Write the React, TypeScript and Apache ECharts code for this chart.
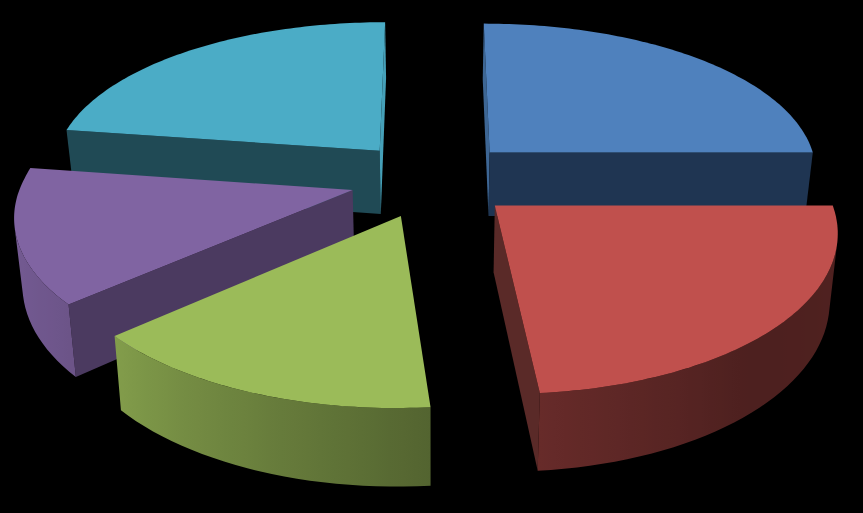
import React, { useEffect, useRef } from "react";
import * as echarts from "echarts";

const CATEGORIES = ["A", "B", "C", "D", "E"];
const VALUES = [25, 23.6, 14.9, 13.8, 22.7];
const TOP_COLORS = ["#4F81BD", "#C0504D", "#9BBB59", "#8064A2", "#4BACC6"];
const START_WALL = ["#3D6694", "#7A3533", "#66803A", "#4B3A60", "#204A55"];
const END_WALL = ["#1F3552", "#5A2A28", "#66803A", "#544070", "#45A0B8"];
const OUTER_SHADE: [number, number][] = [
  [0, 0.6],
  [90, 0.42],
  [140, 0.4],
  [174, 0.53],
  [232, 0.86],
  [280, 0.95],
  [360, 0.9],
];

// Projection of the tilted pie
const CX = 432.5;
const CY = 179;
const SCALE_X = 330;
const SCALE_Y = 153.8;
const PERSPECTIVE = 0.14;
const BACK_WIDEN = 0.02;
const EXPLODE = 0.25;
const HEIGHT = 65;
const TAPER = 0.02;
const STEP = 2;

const total = VALUES.reduce((a, b) => a + b, 0);
const spans = VALUES.map((_, i) => {
  const before = VALUES.slice(0, i).reduce((a, b) => a + b, 0);
  return [(before / total) * 360, ((before + VALUES[i]) / total) * 360];
});
const rad = (d: number) => (d * Math.PI) / 180;
const depthOf = (i: number) => -Math.cos(rad((spans[i][0] + spans[i][1]) / 2));
const drawOrder = VALUES.map((_, i) => i).sort((a, b) => depthOf(a) - depthOf(b));

function topPoint(u: number, v: number): number[] {
  const w = 1 - PERSPECTIVE * v;
  const widen = 1 + BACK_WIDEN * Math.max(0, -v);
  return [CX + ((SCALE_X * u) / w) * widen, CY + (SCALE_Y * v) / w];
}
function bottomPoint(u: number, v: number): number[] {
  const w = 1 - PERSPECTIVE * v;
  const p = topPoint(u, v);
  return [CX + (p[0] - CX) * (1 - TAPER), p[1] + HEIGHT / w];
}
function shade(hex: string, k: number) {
  const n = parseInt(hex.slice(1), 16);
  const c = [(n >> 16) & 255, (n >> 8) & 255, n & 255].map((x) => Math.round(x * k));
  return `rgb(${c[0]},${c[1]},${c[2]})`;
}
function outerShade(a: number) {
  for (let i = 1; i < OUTER_SHADE.length; i++) {
    const [a0, s0] = OUTER_SHADE[i - 1];
    const [a1, s1] = OUTER_SHADE[i];
    if (a <= a1) return s0 + ((s1 - s0) * (a - a0)) / (a1 - a0);
  }
  return 0.9;
}
function area(pts: number[][]) {
  let s = 0;
  pts.forEach((p, i) => {
    const q = pts[(i + 1) % pts.length];
    s += p[0] * q[1] - q[0] * p[1];
  });
  return s / 2;
}

function renderItem(params: any, api: any) {
  const i = api.value(0);
  const [a0, a1] = spans[i];
  const mid = rad((a0 + a1) / 2);
  const ou = EXPLODE * Math.sin(mid);
  const ov = -EXPLODE * Math.cos(mid);
  const rim = (a: number) => [ou + Math.sin(rad(a)), ov - Math.cos(rad(a))];
  const children: any[] = [];
  const poly = (points: number[][], fill: any) =>
    children.push({ type: "polygon", shape: { points }, style: { fill } });
  const quad = (pa: number[], pb: number[]) => [
    topPoint(pa[0], pa[1]),
    topPoint(pb[0], pb[1]),
    bottomPoint(pb[0], pb[1]),
    bottomPoint(pa[0], pa[1]),
  ];
  const wall = (pa: number[], pb: number[], fill: string) => {
    const q = quad(pa, pb);
    if (area(q) > 0) poly(q, fill);
  };
  const apex = [ou, ov];
  wall(rim(a0), apex, START_WALL[i]);
  wall(apex, rim(a1), END_WALL[i]);

  // Outer curved wall: contiguous front-facing runs, one polygon each,
  // shaded along the screen's x axis with a gradient built from the angle.
  const n = Math.max(2, Math.ceil((a1 - a0) / STEP));
  let run: number[] = [];
  const flush = () => {
    if (run.length < 2) {
      run = [];
      return;
    }
    const tops = run.map((a) => {
      const r = rim(a);
      return topPoint(r[0], r[1]);
    });
    const bots = run.map((a) => {
      const r = rim(a);
      return bottomPoint(r[0], r[1]);
    });
    const xs = tops.map((p) => p[0]);
    const x0 = Math.min(...xs);
    const x1 = Math.max(...xs);
    const stops = run
      .map((a, k) => ({
        offset: x1 > x0 ? (xs[k] - x0) / (x1 - x0) : 0,
        color: shade(TOP_COLORS[i], outerShade(a)),
      }))
      .sort((p, q) => p.offset - q.offset);
    poly(tops.concat(bots.reverse()), {
      type: "linear",
      x: x0,
      y: 0,
      x2: x1,
      y2: 0,
      global: true,
      colorStops: stops,
    });
    run = [];
  };
  for (let k = 0; k < n; k++) {
    const b0 = a0 + ((a1 - a0) * k) / n;
    const b1 = a0 + ((a1 - a0) * (k + 1)) / n;
    if (area(quad(rim(b1), rim(b0))) > 0) {
      if (run.length === 0) run.push(b0);
      run.push(b1);
    } else {
      flush();
    }
  }
  flush();

  const top: number[][] = [topPoint(apex[0], apex[1])];
  for (let k = 0; k <= n * 2; k++) {
    const r = rim(a0 + ((a1 - a0) * k) / (n * 2));
    top.push(topPoint(r[0], r[1]));
  }
  poly(top, TOP_COLORS[i]);
  return { type: "group", children };
}

export default function App() {
  const ref = useRef<HTMLDivElement>(null);
  useEffect(() => {
    const chart = echarts.init(ref.current!, undefined, { renderer: "svg" });
    chart.setOption({
      animation: false,
      backgroundColor: "#000000",
      series: [
        {
          type: "custom",
          coordinateSystem: "none",
          silent: true,
          renderItem,
          data: drawOrder.map((i) => ({ name: CATEGORIES[i], value: [i, VALUES[i]] })),
        },
      ],
    });
    return () => chart.dispose();
  }, []);
  return (
    <div
      ref={ref}
      style={{ position: "absolute", left: 0, top: 0, width: 863, height: 513 }}
    />
  );
}
